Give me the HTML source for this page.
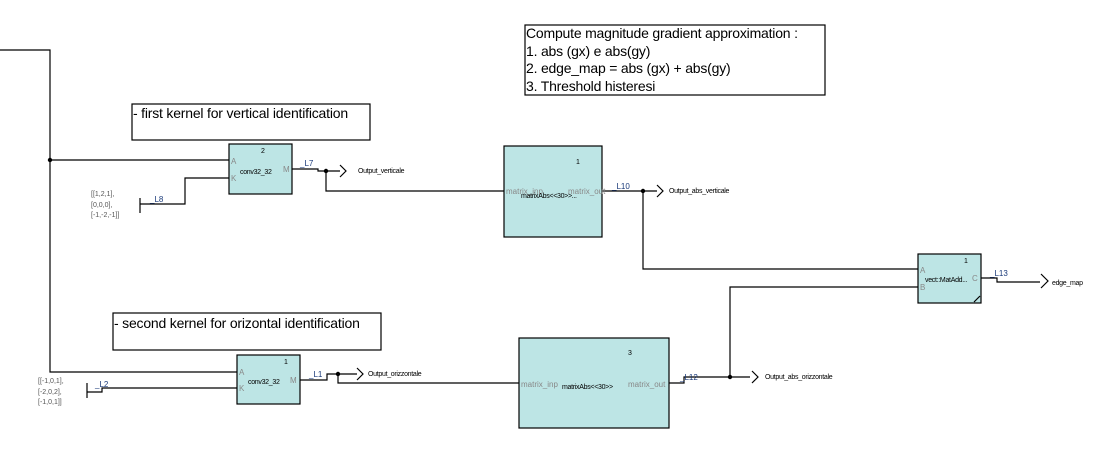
<!DOCTYPE html>
<html><head><meta charset="utf-8"><style>
html,body{margin:0;padding:0;background:#fff;}
svg{display:block;font-family:"Liberation Sans",Arial,sans-serif;}
.t{font-size:14px;letter-spacing:-0.2px;fill:#000;}
.s{font-size:7px;fill:#000;letter-spacing:-0.3px;}
.p{font-size:8px;fill:#888;}
.g{font-size:7px;fill:#555;}
.lb{font-size:8px;fill:#1a3a7a;}
.bx{fill:#bde5e5;stroke:#000;stroke-width:1.2;}
.w{fill:none;stroke:#000;stroke-width:1.2;}
</style></head><body>
<svg width="1115" height="470" viewBox="0 0 1115 470">
<rect x="525" y="25" width="300" height="70" fill="#fff" stroke="#000" stroke-width="1.2"/>
<text class="t" x="526" y="38">Compute magnitude gradient approximation :</text>
<text class="t" x="526" y="56">1. abs (gx) e abs(gy)</text>
<text class="t" x="526" y="73">2.  edge_map = abs (gx) + abs(gy)</text>
<text class="t" x="526" y="91">3. Threshold histeresi</text>
<rect x="132" y="104" width="238" height="36" fill="#fff" stroke="#000" stroke-width="1.2"/>
<text class="t" x="133" y="118">- first kernel for vertical identification</text>
<rect x="113" y="313" width="268" height="37" fill="#fff" stroke="#000" stroke-width="1.2"/>
<text class="t" x="114" y="328">- second kernel for orizontal identification</text>

<path class="w" d="M0 50 H50 V372 H237"/>
<path class="w" d="M50 160 H229"/>
<circle cx="50" cy="160" r="2.2"/>
<path class="w" d="M140 198 V213 M140 204 H185 V178 H229"/>
<path class="w" d="M292 169 H318 V171 H340 M326 171 V191 H504"/>
<circle cx="326" cy="171" r="2.2"/>
<path class="w" d="M340 165 L346 171 L340 177"/>
<path class="w" d="M602 191 H657 M643 191 V269 H918"/>
<circle cx="643" cy="191" r="2.2"/>
<path class="w" d="M657 185 L663 191 L657 197"/>
<path class="w" d="M981 278 H997 V282 H1040"/>
<path class="w" d="M1041 274 L1048 281 L1041 288"/>
<path class="w" d="M918 287 H730 V377"/>
<path class="w" d="M669 383 H684 V377 H750"/>
<circle cx="730" cy="377" r="2.2"/>
<path class="w" d="M752 371 L758 377 L752 383"/>
<path class="w" d="M300 380 H327 V374 H357 M338 374 V383 H519"/>
<circle cx="338" cy="374" r="2.2"/>
<path class="w" d="M357 368 L363 374 L357 380"/>
<path class="w" d="M87 383 V398 M87 392 H102 V388 H237"/>

<rect class="bx" x="229" y="144" width="63" height="50"/>
<text class="s" x="261" y="153" font-size="5">2</text>
<text class="p" x="231" y="164">A</text><text class="p" x="231" y="181">K</text><text class="p" x="283" y="172">M</text>
<text class="s" x="240" y="174">conv32_32</text>

<rect class="bx" x="504" y="146" width="98" height="91"/>
<text class="s" x="576" y="164" font-size="5">1</text>
<text class="p" x="506" y="194" font-size="7">matrix_inp</text>
<text class="p" x="568" y="194" font-size="7">matrix_out</text>
<text class="s" x="521" y="198">matrixAbs&lt;&lt;30&gt;&gt;...</text>

<rect class="bx" x="918" y="254" width="63" height="49"/>
<text class="s" x="964" y="263" font-size="5">1</text>
<text class="p" x="920" y="273">A</text><text class="p" x="920" y="290">B</text><text class="p" x="972" y="281">C</text>
<text class="s" x="925" y="282">vect::MatAdd...</text>
<path class="w" d="M974 302 L980 296" stroke-width="0.8"/>

<rect class="bx" x="519" y="338" width="150" height="90"/>
<text class="s" x="628" y="355" font-size="5">3</text>
<text class="p" x="521" y="387" font-size="7">matrix_inp</text>
<text class="p" x="628" y="387" font-size="7">matrix_out</text>
<text class="s" x="562" y="389">matrixAbs&lt;&lt;30&gt;&gt;</text>

<rect class="bx" x="237" y="355" width="63" height="49"/>
<text class="s" x="284" y="364" font-size="5">1</text>
<text class="p" x="239" y="375">A</text><text class="p" x="239" y="391">K</text><text class="p" x="290" y="383">M</text>
<text class="s" x="248" y="384">conv32_32</text>

<text class="lb" x="300" y="166">_L7</text>
<text class="lb" x="150" y="202">_L8</text>
<text class="lb" x="612" y="189">_L10</text>
<text class="lb" x="990" y="276">_L13</text>
<text class="lb" x="680" y="380">_L12</text>
<text class="lb" x="309" y="377">_L1</text>
<text class="lb" x="95" y="387">_L2</text>
<text class="s" x="358" y="173">Output_verticale</text>
<text class="s" x="669" y="193">Output_abs_verticale</text>
<text class="s" x="1052" y="285">edge_map</text>
<text class="s" x="765" y="379">Output_abs_orizzontale</text>
<text class="s" x="368" y="376">Output_orizzontale</text>
<text class="g" x="91" y="196">[[1,2,1],</text>
<text class="g" x="91" y="207">[0,0,0],</text>
<text class="g" x="91" y="217">[-1,-2,-1]]</text>
<text class="g" x="38" y="383">[[-1,0,1],</text>
<text class="g" x="38" y="394">[-2,0,2],</text>
<text class="g" x="38" y="404">[-1,0,1]]</text>
</svg>
</body></html>
